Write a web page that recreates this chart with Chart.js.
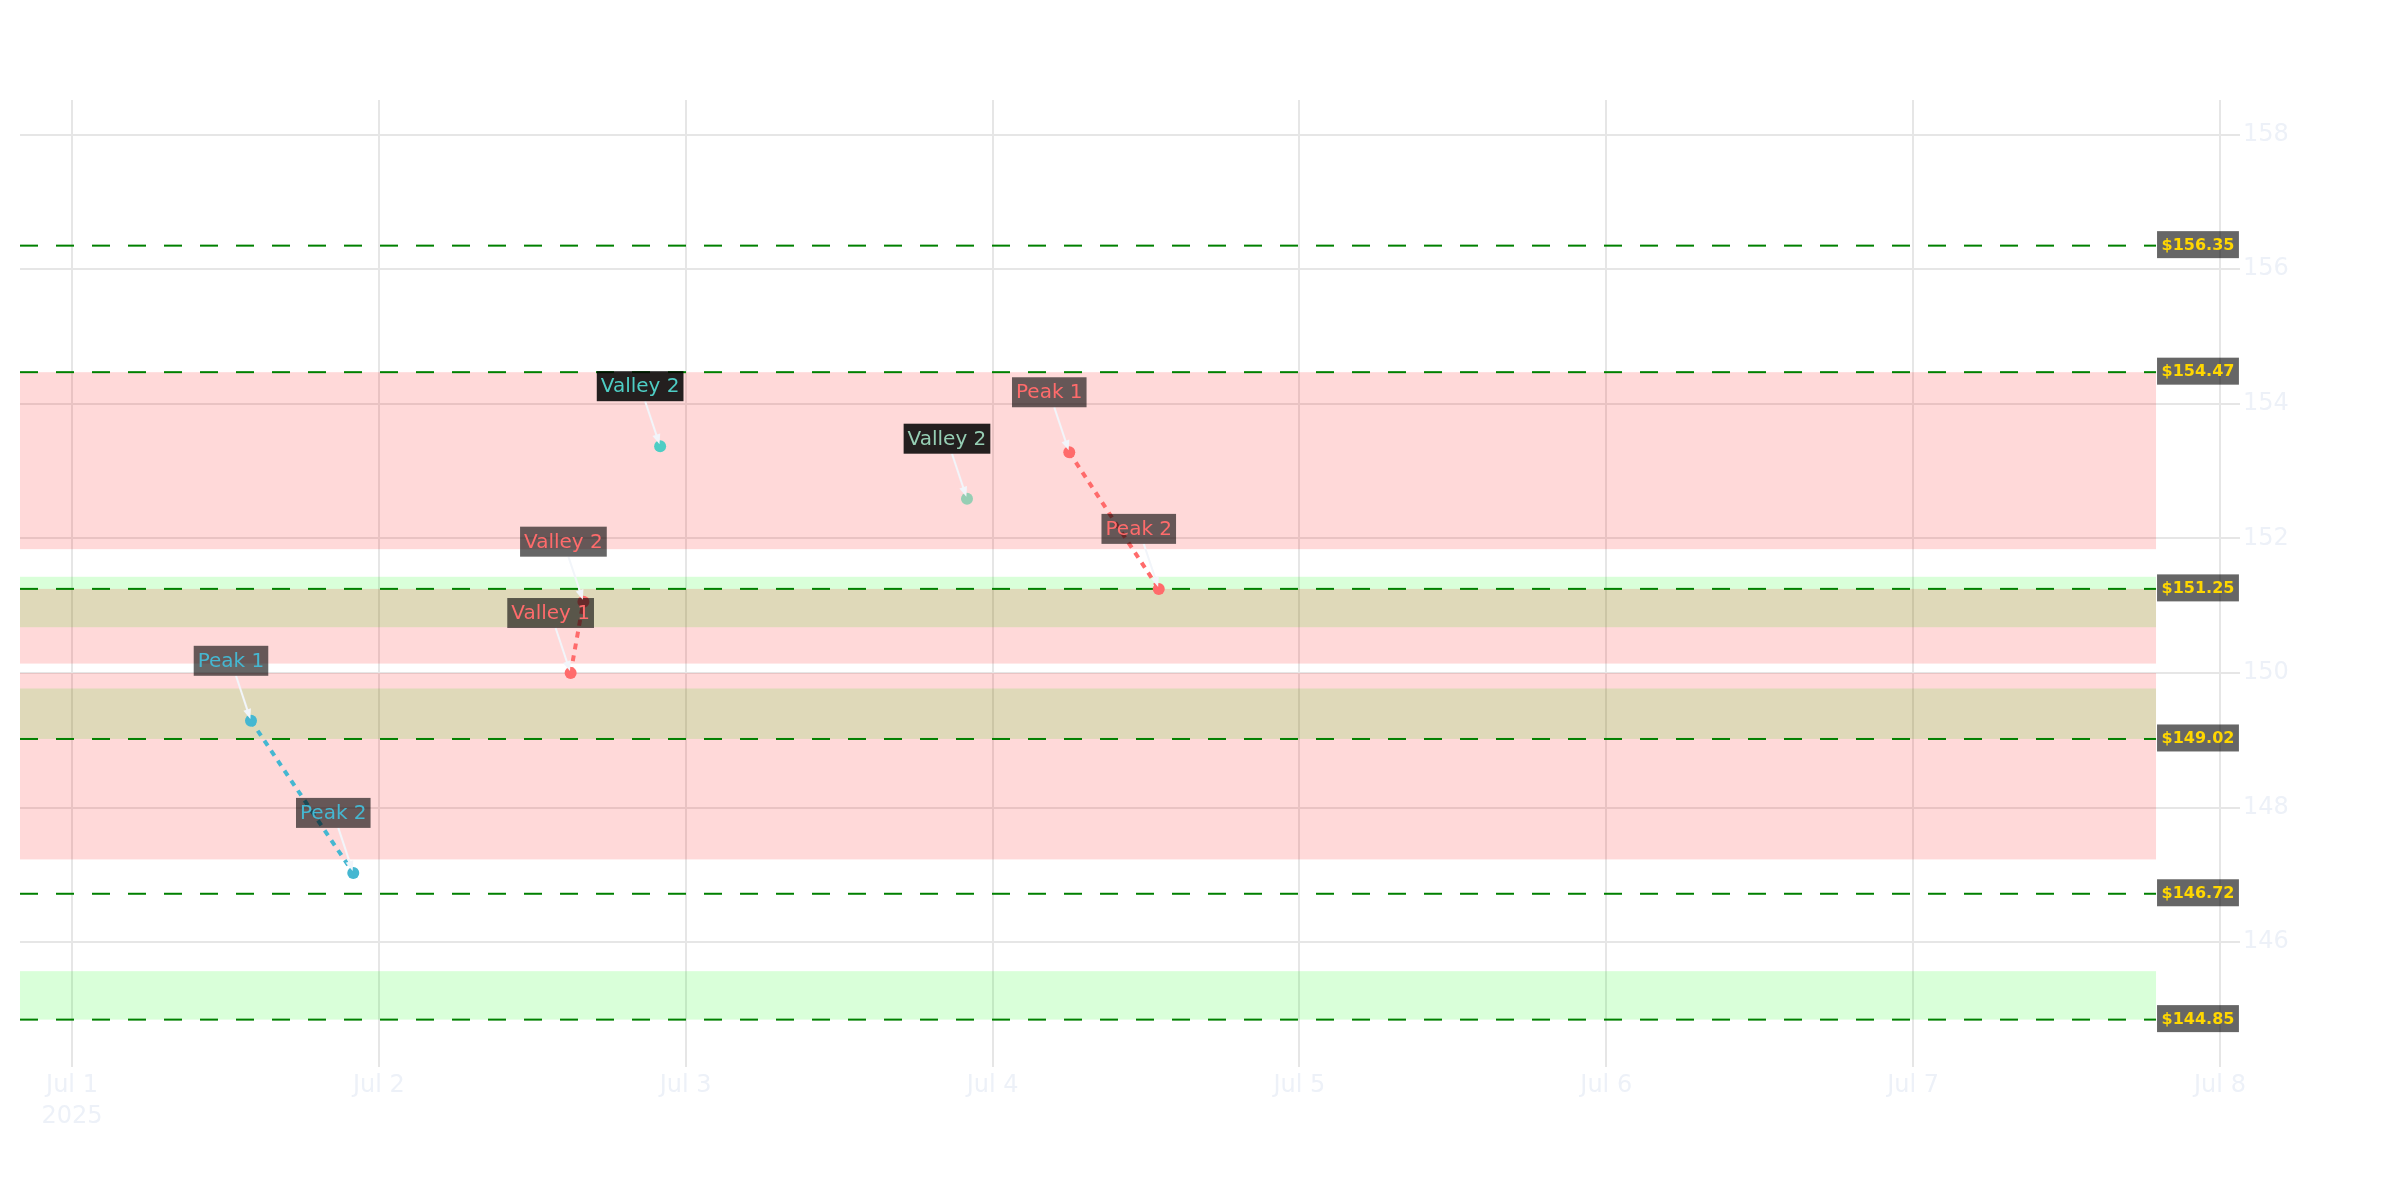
<!DOCTYPE html>
<html>
<head>
<meta charset="utf-8">
<script src="https://cdn.jsdelivr.net/npm/chart.js@4.4.1/dist/chart.umd.min.js"></script>
<style>
html,body{margin:0;padding:0;background:#ffffff;}
canvas{display:block;}
</style>
</head>
<body>
<canvas id="c" width="2400" height="1200"></canvas>
<script>
// ---------- data ----------
const BASE_TIME = '2025-07-01T00:00';
const xRange = ['2025-06-30T19:56', '2025-07-08T01:34'];
const yRange = [144.146, 158.514];
const xTickDates = ['2025-07-01T00:00','2025-07-02T00:00','2025-07-03T00:00','2025-07-04T00:00','2025-07-05T00:00','2025-07-06T00:00','2025-07-07T00:00','2025-07-08T00:00'];
const xTickLabels = [['Jul 1','2025'],'Jul 2','Jul 3','Jul 4','Jul 5','Jul 6','Jul 7','Jul 8'];
const yTicks = [146,148,150,152,154,156,158];

const bluePeakTimes = ['2025-07-01T14:00','2025-07-01T22:00'];
const bluePeakValues = [149.29, 147.03];
const bluePeakLabels = ['Peak 1','Peak 2'];

const redValleyTimes = ['2025-07-02T15:00','2025-07-02T16:00'];
const redValleyValues = [150.00, 151.06];
const redValleyLabels = ['Valley 1','Valley 2'];

const tealValleyTimes = ['2025-07-02T22:00'];
const tealValleyValues = [153.37];
const tealValleyLabels = ['Valley 2'];

const mintValleyTimes = ['2025-07-03T22:00'];
const mintValleyValues = [152.59];
const mintValleyLabels = ['Valley 2'];

const redPeakTimes = ['2025-07-04T06:00','2025-07-04T13:00'];
const redPeakValues = [153.28, 151.25];
const redPeakLabels = ['Peak 1','Peak 2'];

const levelValues = [156.35, 154.47, 151.25, 149.02, 146.72, 144.85];
const levelLabels = ['$156.35','$154.47','$151.25','$149.02','$146.72','$144.85'];
const levelEndTime = '2025-07-07T19:00';

const supportZones = [[150.68, 151.43], [149.02, 149.77], [144.85, 145.57]];
const resistanceZones = [[151.84, 154.47], [150.14, 151.25], [147.23, 150.00]];

// ---------- helpers ----------
const DAY = 86400000;
const t0 = Date.parse(BASE_TIME + ':00Z');
const toDays = s => (Date.parse(s + ':00Z') - t0) / DAY;
const pts = (times, vals) => times.map((t, i) => ({x: toDays(t), y: vals[i]}));

const FONT = '"DejaVu Sans", Verdana, sans-serif';
const TICK_COLOR = '#edf1f8';
const GRID_COLOR = '#e6e6e6';

const series = [
  {times: bluePeakTimes, values: bluePeakValues, labels: bluePeakLabels, color: '#45B7D1', box: 'rgba(0,0,0,0.6)', line: true},
  {times: redValleyTimes, values: redValleyValues, labels: redValleyLabels, color: '#FF6B6B', box: 'rgba(0,0,0,0.6)', line: true},
  {times: tealValleyTimes, values: tealValleyValues, labels: tealValleyLabels, color: '#4ECDC4', box: 'rgba(0,0,0,0.86)', line: false},
  {times: mintValleyTimes, values: mintValleyValues, labels: mintValleyLabels, color: '#96CEB4', box: 'rgba(0,0,0,0.86)', line: false},
  {times: redPeakTimes, values: redPeakValues, labels: redPeakLabels, color: '#FF6B6B', box: 'rgba(0,0,0,0.6)', line: true}
];

const datasets = series.map(s => ({
  data: pts(s.times, s.values),
  showLine: s.line,
  borderColor: s.color,
  borderWidth: 4,
  borderDash: [6, 6],
  pointRadius: 6,
  pointHoverRadius: 6,
  pointBackgroundColor: s.color,
  pointBorderWidth: 0,
  fill: false
}));

levelValues.forEach(v => {
  datasets.push({
    data: [{x: toDays(xRange[0]), y: v}, {x: toDays(levelEndTime), y: v}],
    showLine: true,
    borderColor: '#008000',
    borderWidth: 2,
    borderDash: [18, 18],
    pointRadius: 0,
    pointHoverRadius: 0,
    fill: false
  });
});

// ---------- plugins ----------
const zonesPlugin = {
  id: 'zones',
  beforeDatasetsDraw(chart) {
    const {ctx, chartArea, scales} = chart;
    const x0 = chartArea.left;
    const x1 = scales.x.getPixelForValue(toDays(levelEndTime));
    ctx.save();
    const drawZone = (z, color) => {
      const yTop = scales.y.getPixelForValue(z[1]);
      const yBot = scales.y.getPixelForValue(z[0]);
      ctx.fillStyle = color;
      ctx.fillRect(x0, yTop, x1 - x0, yBot - yTop);
    };
    supportZones.forEach(z => drawZone(z, 'rgba(0,255,0,0.15)'));
    resistanceZones.forEach(z => drawZone(z, 'rgba(255,0,0,0.15)'));
    ctx.restore();
  }
};

const labelsPlugin = {
  id: 'labels',
  afterDatasetsDraw(chart) {
    const {ctx, scales} = chart;
    ctx.save();
    // price level labels
    ctx.font = 'bold 16px ' + FONT;
    ctx.textAlign = 'center';
    ctx.textBaseline = 'middle';
    const xEnd = scales.x.getPixelForValue(toDays(levelEndTime));
    levelValues.forEach((v, i) => {
      const y = scales.y.getPixelForValue(v);
      const tw = ctx.measureText(levelLabels[i]).width;
      const w = tw + 9, h = 27;
      const left = xEnd + 1;
      ctx.fillStyle = 'rgba(0,0,0,0.6)';
      ctx.fillRect(left, y - h / 2 - 1, w, h);
      ctx.fillStyle = '#FFD700';
      ctx.fillText(levelLabels[i], left + w / 2, y);
    });

    // point annotations with arrows
    const AX = -20, AY = -60;
    ctx.font = '20px ' + FONT;
    series.forEach((s, si) => {
      const meta = chart.getDatasetMeta(si);
      s.labels.forEach((lab, i) => {
        const el = meta.data[i];
        const px = el.x, py = el.y;
        const cx = px + AX, cy = py + AY;
        const tw = ctx.measureText(lab).width;
        const w = tw + 8, h = 30;
        const dx = px - cx, dy = py - cy;
        const len = Math.hypot(dx, dy);
        const ux = dx / len, uy = dy / len;
        const tClip = Math.min((h / 2) / Math.abs(dy), (w / 2) / Math.abs(dx));
        const sx = cx + dx * tClip, sy = cy + dy * tClip;
        const tipX = px - ux * 2, tipY = py - uy * 2;
        const headLen = 10, headHalf = 4;
        const bx = tipX - ux * headLen, by = tipY - uy * headLen;
        ctx.strokeStyle = '#f2f5fa';
        ctx.lineWidth = 2;
        ctx.setLineDash([]);
        ctx.beginPath();
        ctx.moveTo(sx, sy);
        ctx.lineTo(bx + ux * 2, by + uy * 2);
        ctx.stroke();
        ctx.fillStyle = '#f2f5fa';
        ctx.beginPath();
        ctx.moveTo(tipX, tipY);
        ctx.lineTo(bx - uy * headHalf, by + ux * headHalf);
        ctx.lineTo(bx + uy * headHalf, by - ux * headHalf);
        ctx.closePath();
        ctx.fill();
        ctx.fillStyle = s.box;
        ctx.fillRect(cx - w / 2, cy - h / 2, w, h);
        ctx.fillStyle = s.color;
        ctx.textAlign = 'center';
        ctx.textBaseline = 'middle';
        ctx.fillText(lab, cx, cy + 1);
      });
    });
    ctx.restore();
  }
};

// ---------- chart ----------
new Chart(document.getElementById('c'), {
  type: 'scatter',
  data: {datasets},
  options: {
    responsive: false,
    animation: false,
    devicePixelRatio: 1,
    layout: {padding: {left: 20, top: 100, right: 0, bottom: 0}},
    plugins: {legend: {display: false}, tooltip: {enabled: false}},
    events: [],
    scales: {
      x: {
        type: 'linear',
        min: toDays(xRange[0]),
        max: toDays(xRange[1]),
        afterBuildTicks: sc => { sc.ticks = xTickDates.map(d => ({value: toDays(d)})); },
        afterFit: sc => { sc.height = 133; },
        grid: {color: GRID_COLOR, lineWidth: 2, drawTicks: false},
        border: {display: false},
        ticks: {
          autoSkip: false, maxRotation: 0, minRotation: 0, padding: 3,
          color: TICK_COLOR,
          font: {family: FONT, size: 24, lineHeight: 1.3},
          callback: (v, i) => xTickLabels[i]
        }
      },
      y: {
        type: 'linear',
        position: 'right',
        min: yRange[0],
        max: yRange[1],
        afterBuildTicks: sc => { sc.ticks = yTicks.map(v => ({value: v})); },
        afterFit: sc => { sc.width = 160; },
        grid: {color: GRID_COLOR, lineWidth: 2, drawTicks: false},
        border: {display: false},
        ticks: {
          autoSkip: false, padding: 3,
          color: TICK_COLOR,
          font: {family: FONT, size: 24},
          callback: (v, i) => String(yTicks[i])
        }
      }
    }
  },
  plugins: [zonesPlugin, labelsPlugin]
});
</script>
</body>
</html>
